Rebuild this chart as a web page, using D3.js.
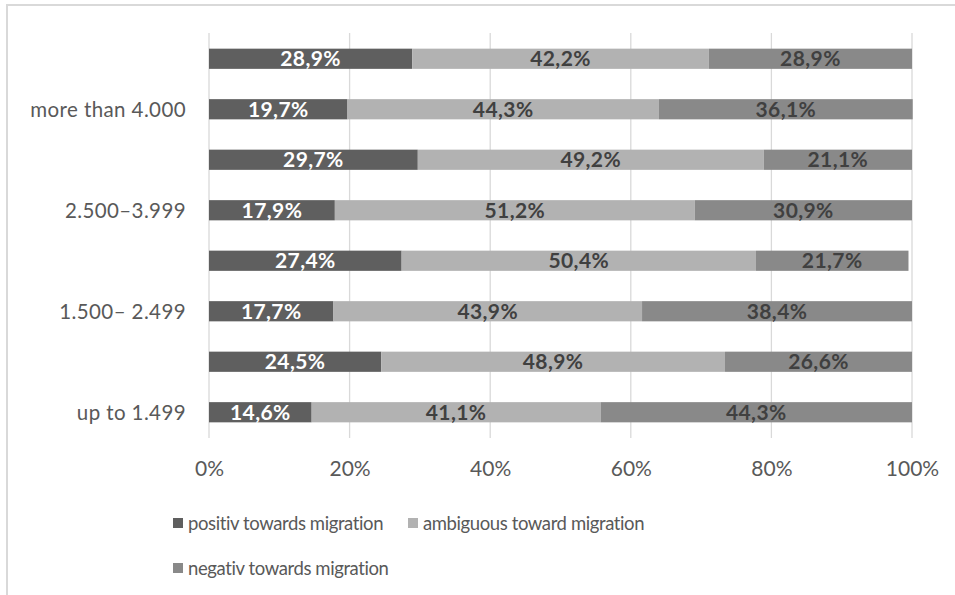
<!DOCTYPE html>
<html><head><meta charset="utf-8">
<script src="https://cdn.jsdelivr.net/npm/d3@7"></script>
<style>
html,body{margin:0;padding:0;background:#fff;}
svg{display:block;}
text{font-family:Lato,"Open Sans",sans-serif;}
</style></head>
<body><svg id="c" width="955" height="595"></svg>
<script>
// rows top to bottom
const rowLabels = ["", "more than 4.000", "", "2.500–3.999", "", "1.500– 2.499", "", "up to 1.499"];
const seriesNames = ["positiv towards migration", "ambiguous toward migration", "negativ towards migration"];
const positiv   = [28.9, 19.7, 29.7, 17.9, 27.4, 17.7, 24.5, 14.6];
const ambiguous = [42.2, 44.3, 49.2, 51.2, 50.4, 43.9, 48.9, 41.1];
const negativ   = [28.9, 36.1, 21.1, 30.9, 21.7, 38.4, 26.6, 44.3];
const xTicks = [0, 20, 40, 60, 80, 100];
const colors = ["#5f5f5f", "#b2b2b2", "#898989"];
const labelColors = ["#ffffff", "#404040", "#404040"];

const svg = d3.select("#c");
// chart frame
svg.append("rect").attr("x",7).attr("y",5).attr("width",1200).attr("height",1200)
  .attr("fill","none").attr("stroke","#d9d9d9").attr("stroke-width",2);

const x = d3.scaleLinear().domain([0,100]).range([209,912]);
const rows = d3.range(rowLabels.length);
const y = d3.scaleBand().domain(rows).range([33,438]).paddingInner(0.6).paddingOuter(0.31);

// gridlines
svg.append("g").selectAll("line").data(xTicks).join("line")
  .attr("x1",d=>x(d)).attr("x2",d=>x(d)).attr("y1",33).attr("y2",438)
  .attr("stroke","#d9d9d9").attr("stroke-width",1.3);

const table = rows.map(i => ({row:i, values:[positiv[i], ambiguous[i], negativ[i]]}));
const stacked = d3.stack().keys([0,1,2]).value((d,k)=>d.values[k])(table);

const g = svg.append("g");
stacked.forEach((layer, k) => {
  const lg = g.append("g");
  lg.selectAll("rect").data(layer).join("rect")
    .attr("x", d=>x(d[0])).attr("width", d=>x(d[1])-x(d[0]))
    .attr("y", d=>y(d.data.row)).attr("height", y.bandwidth())
    .attr("fill", colors[k]);
  lg.selectAll("text").data(layer).join("text")
    .attr("x", d=>(x(d[0])+x(d[1]))/2)
    .attr("y", d=>y(d.data.row)+y.bandwidth()/2)
    .attr("dy","0.36em").attr("text-anchor","middle")
    .attr("font-weight","bold").attr("font-size",21).attr("letter-spacing","0.4px")
    .attr("fill", labelColors[k])
    .text(d=>d.data.values[k].toFixed(1).replace(".", ",")+"%");
});

// category labels
svg.append("g").selectAll("text").data(rows).join("text")
  .attr("x",186).attr("y",d=>y(d)+y.bandwidth()/2).attr("dy","0.36em")
  .attr("text-anchor","end").attr("font-size",20.5).attr("letter-spacing","0.4px").attr("fill","#595959")
  .text(d=>rowLabels[d]);

// x axis
const xAxis = d3.axisBottom(x).tickValues(xTicks).tickFormat(d=>d+"%").tickSize(0).tickPadding(0);
const ax = svg.append("g").attr("transform","translate(0,468)").call(xAxis);
ax.select(".domain").remove();
ax.selectAll("text").attr("font-size",21).attr("fill","#595959").attr("dy","0.36em")
  .attr("font-family","Lato,'Open Sans',sans-serif");

// legend
const legendPos = [[173,523],[408,523],[173,568]];
const lg = svg.append("g");
seriesNames.forEach((name,k)=>{
  const [lx,ly] = legendPos[k];
  lg.append("rect").attr("x",lx).attr("y",ly-5).attr("width",10).attr("height",10).attr("fill",colors[k]);
  lg.append("text").attr("x",lx+15).attr("y",ly).attr("dy","0.36em")
    .attr("font-size",18.5).attr("letter-spacing","-0.4px").attr("fill","#595959").text(name);
});
</script></body></html>
